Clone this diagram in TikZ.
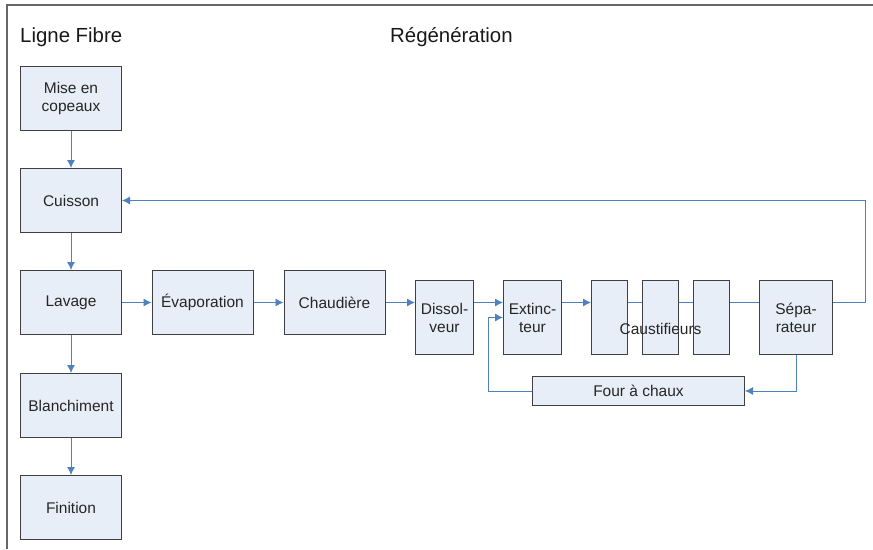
\documentclass[tikz,border=0pt]{standalone}
\usepackage{fontspec}
\setmainfont{Liberation Sans}
\usepackage{xcolor}
\usetikzlibrary{
    arrows.meta,
    calc,
    positioning
}
\definecolor{boxfill}{HTML}{E8EEF7}
\definecolor{boxline}{HTML}{404040}
\definecolor{flow}{HTML}{4F81BD}
\tikzset{
    bloc/.style={draw=boxline, fill=boxfill, line width=1pt, inner sep=0pt, align=center,
        text=black!85, font=\fontsize{15.5}{18}\selectfont},
    large/.style={bloc, minimum width=101pt, minimum height=64pt},
    etroit/.style={bloc, minimum width=58pt, minimum height=74pt},
    flux/.style={draw=flow, line width=0.9pt, -{Latex[length=8pt,width=8pt]}},
    trait/.style={draw=flow, line width=0.9pt},
    titre/.style={anchor=west, inner sep=0pt, text=black!90, font=\fontsize{20.4}{24}\selectfont}
}

\begin{document}
\begin{tikzpicture}[x=1pt, y=-1pt]
                        \useasboundingbox (0,0) rectangle (873,549);
                        \draw[boxline!80, line width=1.4pt] (7,549) -- (7,5) -- (873,5);
                        \node[titre] (fibre) at (20, 37) {Ligne Fibre};
                        \node[titre] (regen) at (390, 37) {Régénération};
                        % ligne fibre
                        \node[large] (mise) at (71, 98) {Mise en\\copeaux};
                        \node[large] (cuisson) at (71, 200.5) {Cuisson};
                        \node[large] (lavage) at (71, 302.5) {Lavage};
                        \node[large] (blanch) at (71, 405.5) {Blanchiment};
                        \node[large] (finition) at (71, 507.5) {Finition};
                        \draw[flux] (mise) -- (cuisson);
                        \draw[flux] (cuisson) -- (lavage);
                        \draw[flux] (lavage) -- (blanch);
                        \draw[flux] (blanch) -- (finition);
                        % regeneration
                        \node[large] (evap) at (202.5, 302.5) {Évaporation};
                        \node[large] (chaud) at (334.5, 302.5) {Chaudière};
                        \node[etroit] (dissol) at (444.5, 317.5) {Dissol-\\veur};
                        \node[etroit] (extinc) at (532.5, 317.5) {Extinc-\\teur};
                        \node[etroit, minimum width=36pt] (caustA) at (609.5, 317.5) {};
                        \node[etroit, minimum width=36pt] (caustB) at (660.5, 317.5) {};
                        \node[etroit, minimum width=36pt] (caustC) at (711.5, 317.5) {};
                        \node[etroit, minimum width=73pt] (sepa) at (796, 317.5) {Sépa-\\rateur};
                        \node[bloc, minimum width=212pt, minimum height=29pt] (four) at (638.5, 391) {Four à chaux};
                        \draw[flux] (lavage) -- (evap);
                        \draw[flux] (evap) -- (chaud);
                        \draw[flux] (chaud.east) -- (chaud.east -| dissol.west);
                        \draw[flux] (chaud.east -| dissol.east) -- (chaud.east -| extinc.west);
                        \draw[flux] (chaud.east -| extinc.east) -- (chaud.east -| caustA.west);
                        \draw[trait] (chaud.east -| caustA.east) -- (chaud.east -| caustB.west);
                        \draw[trait] (chaud.east -| caustB.east) -- (chaud.east -| caustC.west);
                        \draw[trait] (chaud.east -| caustC.east) -- (chaud.east -| sepa.west);
                        \draw[flux] (chaud.east -| sepa.east) -- ++(32,0) |- (cuisson.east);
                        \draw[flux] (sepa.south) |- (four.east);
                        \draw[flux] (four.west) -| ([xshift=-15pt]extinc.west) -- (extinc.west);
                        \node[inner sep=0pt, text=black!85, font=\fontsize{15.5}{18}\selectfont] (caustlabel) at (660.5, 329) {Caustifieurs};
                    \end{tikzpicture}
\end{document}
